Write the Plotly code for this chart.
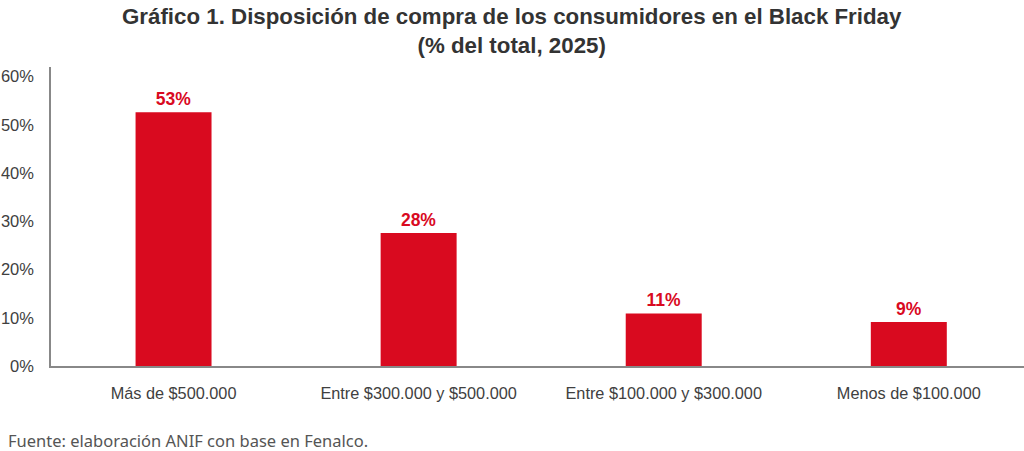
import plotly.graph_objects as go

categories = ["Más de $500.000", "Entre $300.000 y $500.000", "Entre $100.000 y $300.000", "Menos de $100.000"]
values = [52.6, 27.6, 10.9, 9.1]
labels = ["53%", "28%", "11%", "9%"]
yticks = [0, 10, 20, 30, 40, 50, 60]
yticklabels = ["0%", "10%", "20%", "30%", "40%", "50%", "60%"]

PLOT_TOP = 67
PLOT_BOTTOM = 366
PLOT_H = PLOT_BOTTOM - PLOT_TOP

fig = go.Figure()
fig.add_trace(go.Bar(
    x=list(range(len(categories))), y=values, width=0.31,
    marker=dict(color="#D90A1F", line=dict(width=0)),
    text=labels, textposition="outside", cliponaxis=False,
    textfont=dict(family="Liberation Sans, Arial", size=17.5, color="#D90A1F", weight="bold"),
))
fig.update_layout(
    width=1024, height=451,
    margin=dict(l=51, r=0, t=PLOT_TOP, b=451 - PLOT_BOTTOM, autoexpand=False),
    paper_bgcolor="white", plot_bgcolor="white",
    showlegend=False,
    xaxis=dict(
        tickmode="array", tickvals=list(range(len(categories))), ticktext=categories,
        range=[-0.5, 3.47], showline=True, linecolor="#888888", linewidth=1.5,
        ticks="", showgrid=False, zeroline=False, automargin=False,
        ticklabelstandoff=12,
        tickfont=dict(family="Liberation Sans, Arial", size=16.3, color="#404040"),
    ),
    yaxis=dict(
        range=[0, 62], tickmode="array", tickvals=yticks, ticktext=yticklabels,
        showline=True, linecolor="#888888", linewidth=1.5, ticks="",
        showgrid=False, zeroline=False, automargin=False,
        ticklabelstandoff=12,
        tickfont=dict(family="Liberation Sans, Arial", size=16.5, color="#404040"),
    ),
    annotations=[
        dict(
            text="<b>Gráfico 1. Disposición de compra de los consumidores en el Black Friday<br>(% del total, 2025)</b>",
            xref="paper", yref="paper", x=(512 - 51) / 973, y=1 + (PLOT_TOP - 2) / PLOT_H,
            xanchor="center", yanchor="top", showarrow=False, align="center",
            font=dict(family="Liberation Sans Narrow, Arial Narrow, Liberation Sans", size=22.3, color="#333333"),
        ),
        dict(
            text="Fuente: elaboración ANIF con base en Fenalco.",
            xref="paper", yref="paper", x=(6 - 51) / 973, y=-(440 - PLOT_BOTTOM) / PLOT_H,
            xanchor="left", yanchor="middle", showarrow=False,
            font=dict(family="Noto Sans, Open Sans", size=16.5, color="#555555"),
        ),
    ],
)
fig.write_html("out.html", config={"displayModeBar": False},
               post_script="document.body.style.margin='0';document.body.style.overflow='hidden';")
